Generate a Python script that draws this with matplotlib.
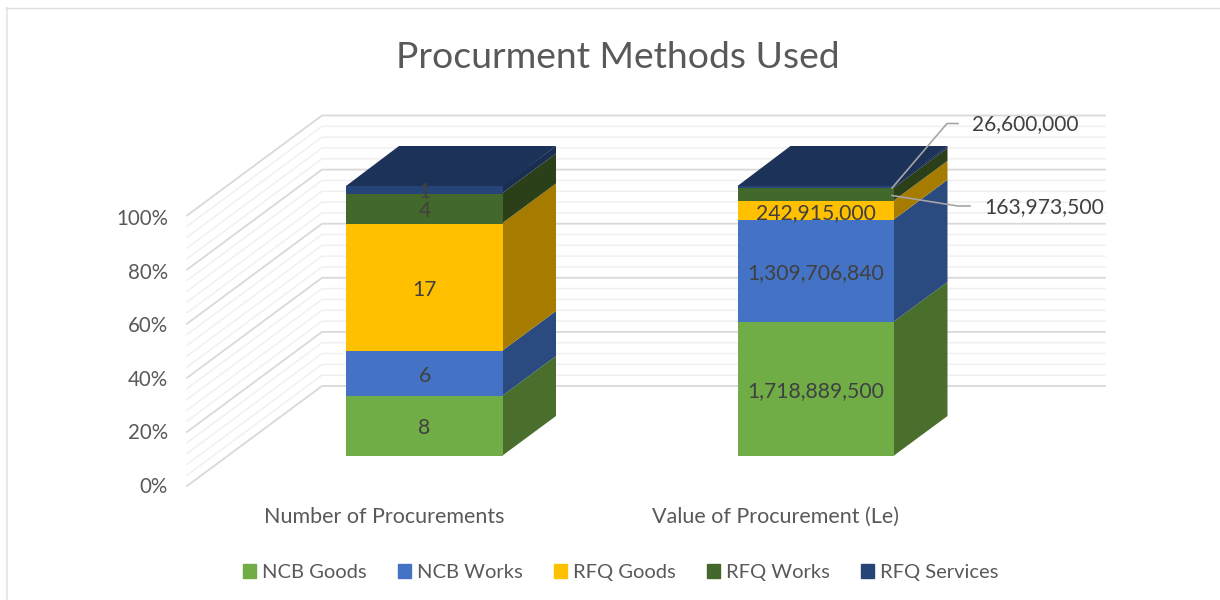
import matplotlib
matplotlib.use('Agg')
import matplotlib.pyplot as plt
from matplotlib.patches import Polygon, Patch
import numpy as np

title = 'Procurment Methods Used'
categories = ['Number of Procurements', 'Value of Procurement (Le)']
series = ['NCB Goods', 'NCB Works', 'RFQ Goods', 'RFQ Works', 'RFQ Services']
number_vals = [8, 6, 17, 4, 1]
value_vals = [1718889500, 1309706840, 242915000, 163973500, 26600000]
pct_ticks = [0, 20, 40, 60, 80, 100]

front = ['#70AD47', '#4472C4', '#FFC000', '#43682B', '#264478']
side = ['#4A6F2D', '#2A4A80', '#A67C00', '#2B4019', '#1A2E52']
top = '#1C3259'

W, H = 1220, 600
plt.rcParams['font.family'] = ['Lato', 'DejaVu Sans']
fig = plt.figure(figsize=(W / 100, H / 100), dpi=100)

# overlay in pixels for the 3D walls, border and leaders
bg = fig.add_axes([0, 0, 1, 1])
bg.set_xlim(0, W)
bg.set_ylim(H, 0)
bg.axis('off')

bg.plot([6.5, 6.5], [600, 8], color='#e8e8e8', lw=1.5)
bg.plot([6, 1220], [8, 8], color='#dedede', lw=1)

# back wall and side wall gridlines
wall_x0, wall_x1, wall_x2 = 187, 322, 1105
for v in np.arange(0, 101, 4):
    y = 386 - v * 2.705
    major = v % 20 == 0
    bg.plot([wall_x0, wall_x1, wall_x2], [y + 100, y, y],
            color='#d9d9d9' if major else '#f0f0f0', lw=1.3 if major else 1.1,
            solid_joinstyle='miter')

for v in pct_ticks:
    bg.text(168, 487 - v * 2.68, f'{v}%', ha='right', va='center', fontsize=14.8, color='#595959')

# bars: x in category units, y in percent
ax = fig.add_axes([228.75 / W, (H - 456) / H, 783 / W, 270 / H])
ax.set_xlim(-0.5, 1.5)
ax.set_ylim(0, 100)
ax.axis('off')
ax.patch.set_alpha(0)

bar_w = 0.401
dx = 53 / 391.5
dy = 40 / 2.7
seam = 0.003

for i, vals in enumerate([number_vals, value_vals]):
    vals = np.array(vals, dtype=float)
    pct = vals / vals.sum() * 100
    bottom = 0
    xl, xr = i - bar_w / 2, i + bar_w / 2
    for k, p in enumerate(pct):
        ax.bar(i, p, bar_w, bottom=bottom, color=front[k], linewidth=0, clip_on=False, zorder=3)
        ax.add_patch(Polygon([(xr - seam, bottom), (xr + dx, bottom + dy), (xr + dx, bottom + p + dy), (xr - seam, bottom + p)],
                             closed=True, color=side[k], lw=0, clip_on=False, zorder=2))
        bottom += p
    ax.add_patch(Polygon([(xl, 100), (xl + dx, 100 + dy), (xr + dx, 100 + dy), (xr, 100)],
                         closed=True, color=top, lw=0, clip_on=False, zorder=3))
    # data labels
    bottom = 0
    for k, p in enumerate(pct):
        mid = bottom + p / 2
        bottom += p
        if i == 1 and k > 2:
            continue
        ax.text(i, mid - 0.9, f'{vals[k]:,.0f}', ha='center', va='center', fontsize=15.2,
                color='#404040', zorder=5, clip_on=False)
    ax.text(i - 0.103, -22.7, categories[i], ha='center', va='center', fontsize=15.5, color='#595959')

# leader lines for the two thin segments
bg2 = fig.add_axes([0, 0, 1, 1])
bg2.set_xlim(0, W)
bg2.set_ylim(H, 0)
bg2.axis('off')
bg2.patch.set_alpha(0)
bg2.plot([892, 947, 958], [188, 123.5, 123.5], color='#a6a6a6', lw=1.2)
bg2.plot([892, 958, 970], [195.5, 206, 206], color='#a6a6a6', lw=1.2)
bg2.text(972, 124.5, f'{value_vals[4]:,}', ha='left', va='center', fontsize=15, color='#404040')
bg2.text(984, 207.5, f'{value_vals[3]:,}', ha='left', va='center', fontsize=15.2, color='#404040')
bg2.text(617.5, 58, title, ha='center', va='center', fontsize=26.8, color='#595959')

handles = [Patch(color=c, label=s) for c, s in zip(front, series)]
bg2.legend(handles=handles, loc='center', bbox_to_anchor=(620.5 / W, 1 - 572.5 / H), bbox_transform=fig.transFigure,
           ncol=5, frameon=False, fontsize=14.5, labelcolor='#595959', handlelength=0.65, handleheight=0.65,
           handletextpad=0.3, columnspacing=1.55)

fig.savefig('out.png', dpi=100)
